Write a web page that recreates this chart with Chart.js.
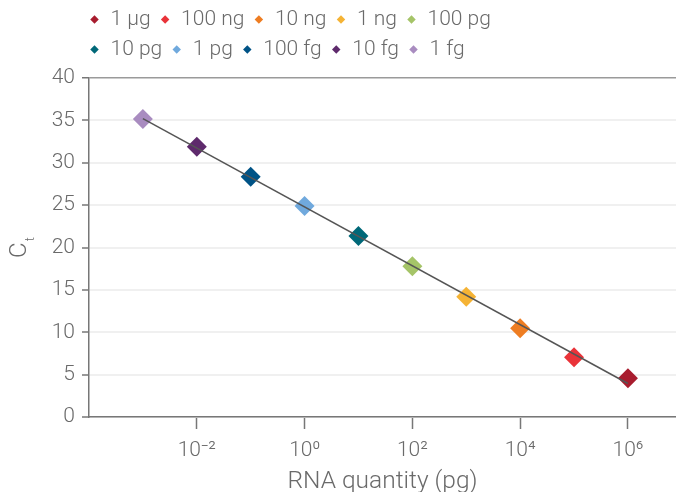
<!DOCTYPE html>
<html>
<head>
<meta charset="utf-8">
<script src="https://cdn.jsdelivr.net/npm/chart.js@4.4.1/dist/chart.umd.min.js"></script>
<style>
  html, body { margin: 0; padding: 0; background: #ffffff; }
  #wrap { width: 676px; height: 492px; }
</style>
</head>
<body>
<div id="wrap"><canvas id="c" width="676" height="492"></canvas></div>
<script>
// ---- data ----
const categories = ['1 µg', '100 ng', '10 ng', '1 ng', '100 pg', '10 pg', '1 pg', '100 fg', '10 fg', '1 fg'];
const quantityPg = [1e6, 1e5, 1e4, 1e3, 1e2, 1e1, 1, 1e-1, 1e-2, 1e-3];
const ctValues = [4.57, 7.04, 10.47, 14.2, 17.8, 21.36, 24.9, 28.35, 31.9, 35.16];
const colors = ['#a81c2e', '#e93339', '#ee7d22', '#f5b335', '#a5c468', '#006878', '#70a9dd', '#005386', '#5e2a6c', '#a98cc0'];
const fitQuantityPg = [1e-3, 1e6];
const fitCt = [35.2, 3.95];
const xTickValues = [1e-2, 1, 1e2, 1e4, 1e6];
const xTickLabels = ['10⁻²', '10⁰', '10²', '10⁴', '10⁶'];
const yTicks = [0, 5, 10, 15, 20, 25, 30, 35, 40];

const FONT = "'Roboto', 'Liberation Sans', 'DejaVu Sans', sans-serif";
const TEXT = '#6a6a6a';
const AXIS = '#777777';

const datasets = categories.map((c, i) => ({
  label: c,
  data: [{ x: quantityPg[i], y: ctValues[i] }],
  xAxisID: 'x',
  yAxisID: 'y',
  backgroundColor: colors[i],
  borderColor: colors[i],
  pointStyle: 'rectRot',
  pointRadius: 10,
  pointHoverRadius: 10,
  pointBorderWidth: 0,
  borderWidth: 0,
  showLine: false,
  order: 1
}));
datasets.push({
  label: '__fit',
  data: fitQuantityPg.map((q, i) => ({ x: q, y: fitCt[i] })),
  xAxisID: 'x',
  yAxisID: 'y',
  borderColor: '#555555',
  backgroundColor: '#555555',
  borderWidth: 1.5,
  pointRadius: 0,
  showLine: true,
  order: 0
});

const legendPlace = {
  id: 'legendPlace',
  afterLayout(chart) {
    const lg = chart.legend;
    if (!lg) return;
    lg.left = 80;
    lg.width = 440;
    lg.right = lg.left + lg.width;
  }
};

const ctTitle = {
  id: 'ctTitle',
  afterDraw(chart) {
    const ctx = chart.ctx;
    const area = chart.chartArea;
    const yc = (area.top + area.bottom) / 2;
    ctx.save();
    ctx.translate(0, yc);
    ctx.rotate(-Math.PI / 2);
    ctx.fillStyle = TEXT;
    ctx.textBaseline = 'alphabetic';
    ctx.textAlign = 'left';
    ctx.font = '300 24px ' + FONT;
    const wC = ctx.measureText('C').width;
    ctx.font = '300 13px ' + FONT;
    const wT = ctx.measureText('t').width;
    const start = -(wC + 1 + wT) / 2;
    ctx.font = '300 24px ' + FONT;
    ctx.fillText('C', start, 26);
    ctx.font = '300 13px ' + FONT;
    ctx.fillText('t', start + wC + 1, 34);
    ctx.restore();
  }
};

function noSidePadding(s) {
  s.paddingLeft = 0;
  s.paddingRight = 0;
}

new Chart(document.getElementById('c'), {
  type: 'scatter',
  data: { datasets },
  plugins: [legendPlace, ctTitle],
  options: {
    responsive: false,
    animation: false,
    layout: { padding: 0, autoPadding: false },
    plugins: {
      tooltip: { enabled: false },
      title: { display: false },
      legend: {
        display: true,
        position: 'top',
        align: 'start',
        labels: {
          filter: (item) => item.datasetIndex < categories.length,
          usePointStyle: true,
          boxWidth: 11,
          boxHeight: 6,
          padding: 9,
          color: TEXT,
          font: { family: FONT, size: 21, weight: '300' }
        }
      }
    },
    scales: {
      x: {
        type: 'logarithmic',
        position: 'bottom',
        min: 1e-4,
        max: Math.pow(10, 6.892),
        afterBuildTicks(scale) {
          scale.ticks = xTickValues.map(v => ({ value: v, major: false }));
        },
        afterFit(s) { s.height = 75; noSidePadding(s); },
        grid: {
          display: true,
          drawOnChartArea: false,
          drawTicks: true,
          tickLength: 12,
          tickColor: AXIS,
          tickWidth: 1.5,
          color: AXIS
        },
        border: { display: true, color: AXIS, width: 1.5 },
        ticks: {
          autoSkip: false,
          maxRotation: 0,
          padding: 9,
          color: TEXT,
          font: { family: FONT, size: 21, weight: '300' },
          callback: (v, i) => xTickLabels[i]
        },
        title: {
          display: true,
          text: 'RNA quantity (pg)',
          color: TEXT,
          font: { family: FONT, size: 24.5, weight: '300' },
          padding: { top: 0, bottom: -4.2 }
        }
      },
      y: {
        type: 'linear',
        position: 'left',
        min: 0,
        max: 40,
        afterBuildTicks(scale) {
          scale.ticks = yTicks.map(v => ({ value: v }));
        },
        afterFit(s) { s.width = 89; },
        grid: {
          display: true,
          drawOnChartArea: true,
          drawTicks: true,
          tickLength: 7,
          tickColor: AXIS,
          tickWidth: 1.5,
          color: (c) => (c.tick && c.tick.value === 40 ? '#9a9a9a' : '#f0f0f0'),
          lineWidth: (c) => (c.tick && c.tick.value === 40 ? 1.5 : 2)
        },
        border: { display: true, color: AXIS, width: 1.5 },
        ticks: {
          padding: 7,
          color: TEXT,
          font: { family: FONT, size: 21, weight: '300' }
        },
        title: { display: false }
      },
      spacer: {
        type: 'linear',
        axis: 'x',
        position: 'top',
        display: true,
        grid: { display: false, drawTicks: false },
        border: { display: false },
        ticks: { display: false },
        afterFit(s) { s.height = 8; noSidePadding(s); }
      }
    }
  }
});
</script>
</body>
</html>
